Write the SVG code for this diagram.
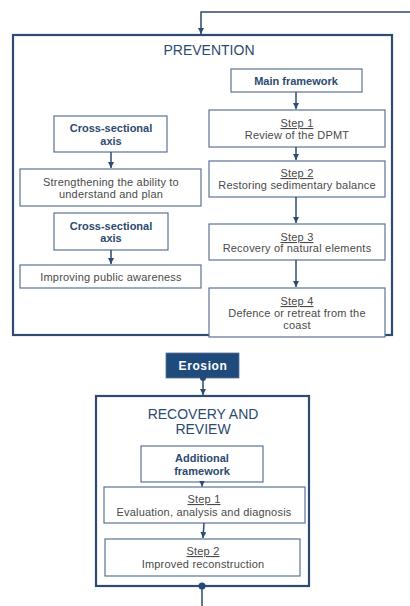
<svg xmlns="http://www.w3.org/2000/svg" width="410" height="606" viewBox="0 0 410 606">
<defs>
<style>
.frame{fill:none;stroke:#2d4a70;stroke-width:2.2}
.box{fill:#ffffff;stroke:#5b7393;stroke-width:1.2}
.conn{fill:none;stroke:#2d4a70;stroke-width:1.5}
.title{font-family:"Liberation Sans",Arial,sans-serif;font-size:14px;fill:#2d4a70;text-anchor:middle}
.bold{font-family:"Liberation Sans",Arial,sans-serif;font-size:11px;font-weight:bold;fill:#2d4a70;text-anchor:middle}
.txt{font-family:"Liberation Sans",Arial,sans-serif;font-size:11px;fill:#4a4a4a;text-anchor:middle;letter-spacing:0.2px}
.step{text-decoration:underline}
.ero{font-family:"Liberation Sans",Arial,sans-serif;font-size:12px;font-weight:bold;fill:#ffffff;text-anchor:middle;letter-spacing:0.6px}
</style>
<marker id="arr" viewBox="0 0 10 10" refX="10" refY="5" markerWidth="6" markerHeight="6" markerUnits="userSpaceOnUse" orient="auto">
<path d="M0,0 L10,5 L0,10 z" fill="#2d4a70"/>
</marker>
</defs>
<rect width="410" height="606" fill="#ffffff"/>

<g id="prevention">
<rect class="frame" x="13" y="35" width="379" height="300"/>
<text class="title" x="209" y="55">PREVENTION</text>
</g>

<g id="main-framework">
<rect class="box" x="231" y="69" width="131" height="23"/>
<text class="bold" x="296" y="85">Main framework</text>
</g>
<g id="p-step1">
<rect class="box" x="209" y="110" width="176" height="37"/>
<text class="txt step" x="297" y="127">Step 1</text>
<text class="txt" x="297" y="139">Review of the DPMT</text>
</g>
<g id="p-step2">
<rect class="box" x="209" y="161" width="176" height="36"/>
<text class="txt step" x="297" y="177">Step 2</text>
<text class="txt" x="297" y="189">Restoring sedimentary balance</text>
</g>
<g id="p-step3">
<rect class="box" x="209" y="224" width="176" height="36"/>
<text class="txt step" x="297" y="241">Step 3</text>
<text class="txt" x="297" y="252">Recovery of natural elements</text>
</g>
<g id="p-step4">
<rect class="box" x="209" y="288" width="176" height="49"/>
<text class="txt step" x="297" y="305">Step 4</text>
<text class="txt" x="297" y="317">Defence or retreat from the</text>
<text class="txt" x="297" y="329">coast</text>
</g>

<g id="cross-axis-1">
<rect class="box" x="54" y="116" width="113" height="36"/>
<text class="bold" x="111" y="132">Cross-sectional</text>
<text class="bold" x="111" y="145">axis</text>
</g>
<g id="strengthening">
<rect class="box" x="20" y="169" width="181" height="37"/>
<text class="txt" x="111" y="186">Strengthening the ability to</text>
<text class="txt" x="111" y="198">understand and plan</text>
</g>
<g id="cross-axis-2">
<rect class="box" x="54" y="213" width="114" height="37"/>
<text class="bold" x="111" y="230">Cross-sectional</text>
<text class="bold" x="111" y="242">axis</text>
</g>
<g id="awareness">
<rect class="box" x="20" y="265" width="181" height="23"/>
<text class="txt" x="111" y="281">Improving public awareness</text>
</g>

<g id="erosion">
<rect x="166" y="353" width="73" height="25" fill="#1f4a7c" stroke="#5b7393" stroke-width="0.8"/>
<text class="ero" x="203" y="370">Erosion</text>
</g>

<g id="recovery">
<rect class="frame" x="96" y="396" width="213" height="190"/>
<text class="title" x="203" y="419">RECOVERY AND</text>
<text class="title" x="203" y="434">REVIEW</text>
</g>
<g id="additional-framework">
<rect class="box" x="141" y="446" width="122" height="36"/>
<text class="bold" x="202" y="462">Additional</text>
<text class="bold" x="202" y="475">framework</text>
</g>
<g id="r-step1">
<rect class="box" x="104" y="487" width="201" height="36"/>
<text class="txt step" x="204" y="503">Step 1</text>
<text class="txt" x="204" y="516">Evaluation, analysis and diagnosis</text>
</g>
<g id="r-step2">
<rect class="box" x="105" y="539" width="195" height="37"/>
<text class="txt step" x="203" y="555">Step 2</text>
<text class="txt" x="203" y="568">Improved reconstruction</text>
</g>

<g id="connectors">
<path class="conn" d="M410,12 H201 V34" marker-end="url(#arr)"/>
<path class="conn" d="M296,92 V109" marker-end="url(#arr)"/>
<path class="conn" d="M296,147 V160" marker-end="url(#arr)"/>
<path class="conn" d="M296,197 V223" marker-end="url(#arr)"/>
<path class="conn" d="M296,260 V287" marker-end="url(#arr)"/>
<path class="conn" d="M111,152 V168" marker-end="url(#arr)"/>
<path class="conn" d="M111,250 V264" marker-end="url(#arr)"/>
<circle cx="203" cy="378" r="3" fill="#1f4a7c"/>
<path class="conn" d="M203,378 V395" marker-end="url(#arr)"/>
<path class="conn" d="M202,482 V486.5" marker-end="url(#arr)"/>
<path class="conn" d="M204,523 L203,538" marker-end="url(#arr)"/>
<circle cx="202" cy="586" r="3.5" fill="#1f4a7c"/>
<path class="conn" d="M202,586 V606"/>
</g>
</svg>
